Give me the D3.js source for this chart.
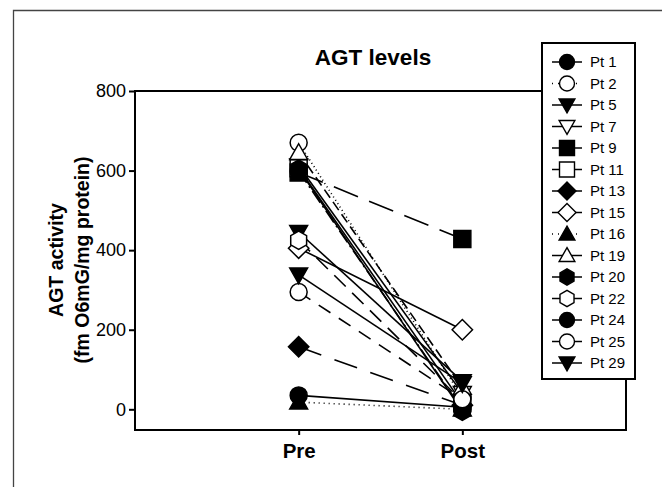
<!DOCTYPE html>
<html>
<head>
<meta charset="utf-8">
<script src="https://cdn.jsdelivr.net/npm/d3@7"></script>
<style>
  body { margin: 0; background: #fff; }
  svg { font-family: "Liberation Sans", Arial, Helvetica, sans-serif; }
</style>
</head>
<body>
<div class="chart"></div>
<script>
// chart values
var patients = ["Pt 1", "Pt 2", "Pt 5", "Pt 7", "Pt 9", "Pt 11", "Pt 13", "Pt 15",
  "Pt 16", "Pt 19", "Pt 20", "Pt 22", "Pt 24", "Pt 25", "Pt 29"];
var timepoints = ["Pre", "Post"];
var preValues = [35, 670, 445, 612, 595, 606, 157, 405, 18, 645, 604, 425, 598, 295, 338];
var postValues = [5, 30, 70, 40, 428, 15, 10, 200, 0, 55, -5, 20, 0, 25, 65];
var yTicks = [0, 200, 400, 600, 800];

// marker shape and fill for each patient (same order)
var shapes = ["circle", "circle", "tridown", "tridown", "square", "square", "diamond", "diamond",
  "triup", "triup", "hexagon", "hexagon", "circle", "circle", "tridown"];
var filled = [true, false, true, false, true, false, true, false,
  true, false, true, false, true, false, true];
var dashes = [null, "1,3", null, null, "26,12", null, "24,14", null,
  "1,4", "10,5", null, "16,9", "14,4,2,4", "14,10", null];

var svgWidth = 662;
var svgHeight = 487;

var svg = d3.select(".chart")
  .append("svg")
  .attr("width", svgWidth)
  .attr("height", svgHeight);

// outer frame (only top and left show in the crop)
svg.append("path")
  .attr("d", "M13.5,487 V10.5 H662")
  .attr("fill", "none")
  .attr("stroke", "#444")
  .attr("stroke-width", 1.3);

var plot = { left: 135, right: 626, top: 91, bottom: 430 };

var x = d3.scaleLinear().domain([-1, 2]).range([plot.left, plot.right]);
var y = d3.scaleLinear().domain([-52, 800]).range([plot.bottom, plot.top]);

// marker paths, centred on 0,0
function shapePath(type, s) {
  var h = s / 2;
  if (type === "circle") {
    return d3.arc()({ innerRadius: 0, outerRadius: h, startAngle: 0, endAngle: 2 * Math.PI });
  }
  if (type === "square") {
    return "M" + (-h) + "," + (-h) + "H" + h + "V" + h + "H" + (-h) + "Z";
  }
  if (type === "diamond") {
    var d = h * 1.2;
    return "M0," + (-d) + "L" + d + ",0L0," + d + "L" + (-d) + ",0Z";
  }
  if (type === "triup") {
    return "M0," + (-h * 1.05) + "L" + (h * 1.05) + "," + (h * 0.8) + "L" + (-h * 1.05) + "," + (h * 0.8) + "Z";
  }
  if (type === "tridown") {
    return "M0," + (h * 1.05) + "L" + (h * 1.05) + "," + (-h * 0.8) + "L" + (-h * 1.05) + "," + (-h * 0.8) + "Z";
  }
  // hexagon
  var pts = d3.range(6).map(function(i) {
    var a = Math.PI / 6 + i * Math.PI / 3;
    return [h * 1.08 * Math.cos(a), h * 1.08 * Math.sin(a)];
  });
  return "M" + pts.map(function(p) { return p.join(","); }).join("L") + "Z";
}

var rows = patients.map(function(name, i) {
  return { name: name, shape: shapes[i], filled: filled[i], dash: dashes[i],
    values: [preValues[i], postValues[i]] };
});

// axes frame: box around the plot
svg.append("rect")
  .attr("x", plot.left)
  .attr("y", plot.top)
  .attr("width", plot.right - plot.left)
  .attr("height", plot.bottom - plot.top)
  .attr("fill", "none")
  .attr("stroke", "#000")
  .attr("stroke-width", 2);

var leftAxis = d3.axisLeft(y).tickValues(yTicks).tickSize(6).tickPadding(3).tickFormat(d3.format("d"));
var gy = svg.append("g")
  .attr("transform", "translate(" + plot.left + ",0)")
  .call(leftAxis);
gy.select(".domain").remove();
gy.selectAll("line").attr("stroke-width", 2);
gy.selectAll("text")
  .attr("font-size", 18)
  .attr("font-family", "'Liberation Sans', Arial, sans-serif")
  .attr("fill", "#000");

var bottomAxis = d3.axisBottom(x).tickValues([0, 1]).tickSize(5).tickPadding(8)
  .tickFormat(function(d) { return timepoints[d]; });
var gx = svg.append("g")
  .attr("transform", "translate(0," + plot.bottom + ")")
  .call(bottomAxis);
gx.select(".domain").remove();
gx.selectAll("line").attr("stroke-width", 2);
gx.selectAll("text")
  .attr("font-size", 20.5)
  .attr("font-weight", "bold")
  .attr("font-family", "'Liberation Sans', Arial, sans-serif")
  .attr("fill", "#000");

// lines Pre -> Post
var line = d3.line()
  .x(function(d, i) { return x(i); })
  .y(function(d) { return y(d); });

svg.append("g").selectAll("path")
  .data(rows)
  .enter()
  .append("path")
  .attr("d", function(d) { return line(d.values); })
  .attr("fill", "none")
  .attr("stroke", "#000")
  .attr("stroke-width", 1.6)
  .attr("stroke-dasharray", function(d) { return d.dash; });

// markers
var markSize = 17;
rows.forEach(function(r) {
  svg.append("g").selectAll("path")
    .data(r.values)
    .enter()
    .append("path")
    .attr("transform", function(d, i) { return "translate(" + x(i) + "," + y(d) + ")"; })
    .attr("d", shapePath(r.shape, markSize))
    .attr("fill", r.filled ? "#000" : "#fff")
    .attr("stroke", "#000")
    .attr("stroke-width", 1.5);
});

// title
svg.append("text")
  .attr("x", 373)
  .attr("y", 65)
  .attr("text-anchor", "middle")
  .attr("font-size", 22.5)
  .attr("font-weight", "bold")
  .text("AGT levels");

// y axis label
var ylab = svg.append("text")
  .attr("transform", "translate(0,260) rotate(-90)")
  .attr("text-anchor", "middle")
  .attr("font-size", 19.5)
  .attr("font-weight", "bold");
ylab.append("tspan").attr("x", 0).attr("y", 63).text("AGT activity");
ylab.append("tspan").attr("x", 0).attr("y", 89).text("(fm O6mG/mg protein)");

// legend
var legend = svg.append("g");
legend.append("rect")
  .attr("x", 542)
  .attr("y", 43)
  .attr("width", 93)
  .attr("height", 336)
  .attr("fill", "#fff")
  .attr("stroke", "#000")
  .attr("stroke-width", 2);

var ly = d3.scalePoint().domain(patients).range([62, 363]);

var items = legend.selectAll(".item")
  .data(rows)
  .enter()
  .append("g")
  .attr("class", "item")
  .attr("transform", function(d) { return "translate(567," + ly(d.name) + ")"; });

items.append("line")
  .attr("x1", -15)
  .attr("x2", 15)
  .attr("stroke", "#000")
  .attr("stroke-width", 1.5)
  .attr("stroke-dasharray", function(d) { return d.dash && d.dash.indexOf("1,") === 0 ? "1,5" : null; });

items.append("path")
  .attr("d", function(d) { return shapePath(d.shape, 15); })
  .attr("fill", function(d) { return d.filled ? "#000" : "#fff"; })
  .attr("stroke", "#000")
  .attr("stroke-width", 1.4);

items.append("text")
  .attr("x", 23)
  .attr("dy", "0.36em")
  .attr("font-size", 15)
  .text(function(d) { return d.name; });
</script>
</body>
</html>
